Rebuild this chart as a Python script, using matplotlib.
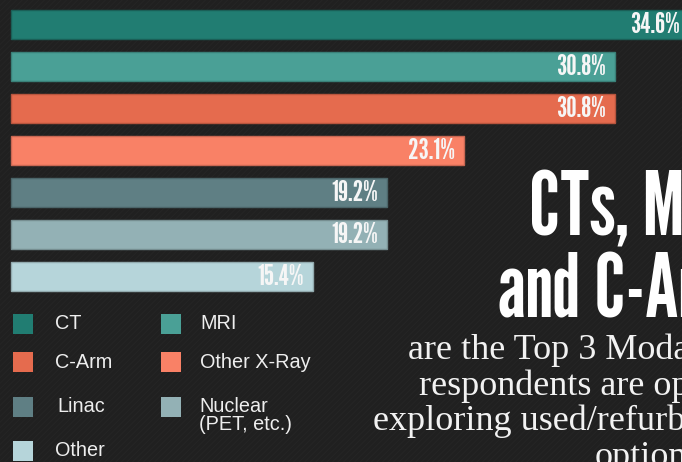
import matplotlib
matplotlib.use("Agg")
import matplotlib.pyplot as plt
from matplotlib.patches import Rectangle

# ---- data ----
categories = ["CT", "MRI", "C-Arm", "Other X-Ray", "Linac", "Nuclear (PET, etc.)", "Other"]
legend_labels = ["CT", "MRI", "C-Arm", "Other X-Ray", "Linac", "Nuclear\n(PET, etc.)", "Other"]
values = [34.6, 30.8, 30.8, 23.1, 19.2, 19.2, 15.4]
colors = ["#217d72", "#4aa096", "#e56b4e", "#f98166", "#5f7f84", "#93b1b5", "#b6d5da"]
edges = ["#1a5f57", "#3a8078", "#b8553e", "#c86752", "#4b6569", "#768e91", "#92aaae"]
title_lines = ["CTs, MRIs", "and C-Arms"]
sub_lines = ["are the Top 3 Modalities", "respondents are open to", "exploring used/refurbished", "options"]

BG = "#202020"
plt.rcParams["hatch.linewidth"] = 0.7
plt.rcParams["hatch.color"] = "#252525"
W, H = 682, 462
fig = plt.figure(figsize=(W / 100, H / 100), dpi=100, facecolor=BG)

# subtle diagonal texture of the backdrop
fig.patches.append(Rectangle((0, 0), 1, 1, transform=fig.transFigure, facecolor=BG,
                             edgecolor="#252525", hatch="//////", linewidth=0, zorder=-10))

ax = fig.add_axes([0, 0, 1, 1])
ax.patch.set_alpha(0)

gothic = ["League Gothic", "DejaVu Sans"]
sans = ["Liberation Sans", "DejaVu Sans"]
serif = ["Liberation Serif", "DejaVu Serif"]

ypos = list(range(len(values)))
ax.barh(ypos, values, height=0.69, color=colors, edgecolor=edges, linewidth=1.0)
for y, v in zip(ypos, values):
    ax.annotate(f"{v}%", xy=(v, y), xytext=(-6.5, -0.5), textcoords="offset points",
                ha="right", va="center", color="#f6f6f6", fontsize=21,
                family=gothic, annotation_clip=False)

ax.set_xlim(-11 / 19.6, (W - 11) / 19.6)
ax.set_ylim((H - 24.5) / 42, -24.5 / 42)
ax.axis("off")

def fx(px):
    return px / W

def fy(py):
    return 1 - py / H

# ---- legend ----
sq_x = [13, 161]
txt_x = [55, 200]
rows_y = [323.5, 362, 407, 451]
for i, (lab, col) in enumerate(zip(legend_labels, colors)):
    r, c = divmod(i, 2)
    cy = rows_y[r]
    fig.patches.append(Rectangle((fx(sq_x[c]), fy(cy + 10)), 20 / W, 20 / H,
                                 transform=fig.transFigure, facecolor=col,
                                 edgecolor="none"))
    if "\n" in lab:
        fig.text(fx(txt_x[c] - 1), fy(cy - 10), lab, ha="left", va="top", color="#eeeeee",
                 fontsize=14.3, family=sans, linespacing=0.95)
    else:
        xoff = 2 if lab == "Linac" else 0
        fig.text(fx(txt_x[c] + xoff), fy(cy), lab, ha="left", va="center", color="#eeeeee",
                 fontsize=14.3, family=sans)

# ---- title block ----
fig.text(fx(529), fy(235), title_lines[0], ha="left", va="baseline", color="#ffffff",
         fontsize=63, family=gothic)
fig.text(fx(498), fy(317), title_lines[1], ha="left", va="baseline", color="#ffffff",
         fontsize=63, family=gothic)

sub_x = [408, 419, 373, 595]
sub_y = [359, 395, 430, 466]
for t, x, y in zip(sub_lines, sub_x, sub_y):
    fig.text(fx(x), fy(y), t, ha="left", va="baseline", color="#f2f2f2",
             fontsize=26, family=serif)

fig.savefig("out.png", dpi=100, facecolor=BG)
